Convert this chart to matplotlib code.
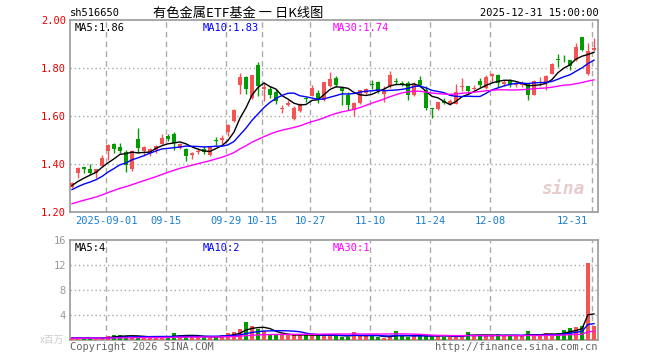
import numpy as np
import pandas as pd
import matplotlib
matplotlib.use("Agg")
import matplotlib.pyplot as plt

# daily candles, 2025-08-22 .. 2025-12-31 (88 trading days)
opens = [1.306, 1.364, 1.386, 1.379, 1.362, 1.393, 1.454, 1.485, 1.471, 1.449,
         1.381, 1.503, 1.456, 1.450, 1.460, 1.483, 1.518, 1.523, 1.468, 1.462,
         1.437, 1.449, 1.462, 1.438, 1.499, 1.502, 1.532, 1.580, 1.731, 1.762,
         1.675, 1.814, 1.714, 1.713, 1.700, 1.628, 1.647, 1.588, 1.620, 1.675,
         1.685, 1.696, 1.665, 1.726, 1.758, 1.717, 1.689, 1.626, 1.654, 1.696,
         1.735, 1.742, 1.693, 1.724, 1.746, 1.738, 1.738, 1.686, 1.751, 1.710,
         1.631, 1.629, 1.664, 1.650, 1.652, 1.722, 1.724, 1.713, 1.744, 1.717,
         1.765, 1.772, 1.735, 1.751, 1.728, 1.730, 1.733, 1.689, 1.736, 1.738,
         1.776, 1.836, 1.843, 1.832, 1.832, 1.928, 1.775, 1.876]
highs = [1.326, 1.387, 1.388, 1.399, 1.380, 1.438, 1.482, 1.487, 1.488, 1.460,
         1.460, 1.551, 1.474, 1.468, 1.478, 1.525, 1.526, 1.535, 1.486, 1.466,
         1.450, 1.467, 1.474, 1.476, 1.513, 1.520, 1.568, 1.630, 1.778, 1.765,
         1.772, 1.824, 1.740, 1.724, 1.712, 1.647, 1.668, 1.640, 1.655, 1.681,
         1.728, 1.710, 1.740, 1.782, 1.766, 1.722, 1.700, 1.660, 1.710, 1.716,
         1.752, 1.745, 1.725, 1.788, 1.760, 1.745, 1.747, 1.740, 1.765, 1.724,
         1.633, 1.660, 1.676, 1.670, 1.735, 1.757, 1.726, 1.730, 1.757, 1.771,
         1.778, 1.774, 1.750, 1.755, 1.745, 1.745, 1.737, 1.750, 1.763, 1.772,
         1.822, 1.858, 1.853, 1.833, 1.904, 1.930, 1.904, 1.925]
lows = [1.300, 1.340, 1.361, 1.358, 1.342, 1.390, 1.417, 1.444, 1.445, 1.368,
        1.370, 1.447, 1.433, 1.433, 1.446, 1.480, 1.495, 1.460, 1.462, 1.412,
        1.420, 1.442, 1.440, 1.434, 1.480, 1.483, 1.515, 1.576, 1.692, 1.690,
        1.672, 1.682, 1.664, 1.676, 1.652, 1.612, 1.640, 1.584, 1.616, 1.658,
        1.682, 1.654, 1.662, 1.722, 1.722, 1.647, 1.627, 1.598, 1.648, 1.690,
        1.711, 1.697, 1.660, 1.716, 1.735, 1.725, 1.668, 1.682, 1.722, 1.624,
        1.592, 1.626, 1.650, 1.645, 1.650, 1.705, 1.696, 1.702, 1.722, 1.712,
        1.740, 1.722, 1.725, 1.720, 1.720, 1.722, 1.668, 1.689, 1.725, 1.710,
        1.773, 1.803, 1.826, 1.793, 1.830, 1.870, 1.772, 1.869]
closes = [1.322, 1.385, 1.378, 1.362, 1.378, 1.426, 1.480, 1.461, 1.456, 1.394,
          1.456, 1.465, 1.470, 1.462, 1.474, 1.510, 1.505, 1.488, 1.483, 1.434,
          1.447, 1.456, 1.452, 1.472, 1.496, 1.507, 1.563, 1.627, 1.762, 1.712,
          1.770, 1.724, 1.720, 1.686, 1.661, 1.632, 1.654, 1.633, 1.650, 1.671,
          1.717, 1.668, 1.740, 1.756, 1.728, 1.706, 1.647, 1.654, 1.707, 1.713,
          1.731, 1.703, 1.707, 1.772, 1.742, 1.734, 1.689, 1.731, 1.728, 1.633,
          1.629, 1.657, 1.656, 1.662, 1.700, 1.726, 1.704, 1.718, 1.728, 1.762,
          1.776, 1.738, 1.740, 1.728, 1.738, 1.737, 1.689, 1.744, 1.742, 1.767,
          1.817, 1.833, 1.840, 1.810, 1.886, 1.876, 1.870, 1.885]
volumes = [0.25, 0.30, 0.25, 0.30, 0.28, 0.40, 0.64, 0.80, 0.80, 0.60,
           0.55, 0.50, 0.45, 0.40, 0.40, 0.50, 0.55, 1.07, 0.80, 0.70,
           0.55, 0.45, 0.45, 0.55, 0.45, 0.85, 1.07, 1.30, 1.76, 2.93,
           2.24, 1.70, 1.50, 0.75, 0.75, 0.90, 0.80, 0.80, 0.80, 0.75,
           0.80, 0.75, 0.80, 0.80, 0.70, 0.43, 0.53, 1.28, 0.64, 0.64,
           0.64, 0.53, 0.37, 0.53, 1.44, 0.64, 0.43, 0.64, 0.64, 0.96,
           0.53, 0.64, 0.53, 0.53, 0.64, 0.80, 1.28, 0.64, 0.64, 0.64,
           0.80, 0.96, 0.64, 0.64, 0.64, 0.64, 1.44, 0.80, 0.64, 1.17,
           0.80, 1.17, 1.60, 1.87, 2.13, 2.24, 12.37, 2.24]

# the month before the window (only feeds the moving averages)
prev_close = [1.160, 1.165, 1.170, 1.175, 1.170, 1.180, 1.190, 1.185, 1.200, 1.205,
              1.210, 1.215, 1.220, 1.225, 1.230, 1.235, 1.240, 1.235, 1.245, 1.250,
              1.260, 1.270, 1.280, 1.280, 1.290, 1.300, 1.310, 1.300, 1.320]
prev_vol = [0.20, 0.22, 0.25, 0.20, 0.22, 0.25, 0.28, 0.25, 0.22, 0.25,
            0.28, 0.30, 0.25, 0.28, 0.30, 0.32, 0.28, 0.30, 0.35, 0.30,
            0.32, 0.35, 0.30, 0.33, 0.35, 0.30, 0.32, 0.30, 0.35]

tick_idx = [6, 16, 26, 32, 40, 50, 60, 70, 87]
tick_labels = ['2025-09-01', '09-15', '09-29', '10-15', '10-27',
               '11-10', '11-24', '12-08', '12-31']
price_ticks = [1.20, 1.40, 1.60, 1.80, 2.00]
vol_ticks = [4, 8, 12, 16]

UP, DOWN = '#f65353', '#009c00'
GRID = '#aaaaaa'
MONO = 'DejaVu Sans Mono'
plt.rcParams['font.family'] = ['DejaVu Sans Mono', 'Noto Sans CJK SC']

n = len(closes)
x = np.arange(n)
o, h, l, c = map(np.array, (opens, highs, lows, closes))
v = np.array(volumes)
colors = np.where(c >= o, UP, DOWN)

def ma(prev, vals, k):
    s = pd.Series(list(prev) + list(vals)).rolling(k).mean().to_numpy()
    return s[len(prev):]

W, H = 660, 360
fig = plt.figure(figsize=(6.6, 3.6), dpi=100)
ax1 = fig.add_axes([70 / W, 1 - 212 / H, 528 / W, 192 / H])
ax2 = fig.add_axes([70 / W, 1 - 340 / H, 528 / W, 100 / H])

xlim = (-0.33, n - 0.33)
for ax in (ax1, ax2):
    ax.set_xlim(*xlim)
    for s in ax.spines.values():
        s.set_color('#999999')
        s.set_linewidth(1.2)
    ax.set_xticks([])
    ax.tick_params(axis='y', length=0, pad=3, labelsize=7.5)
    for t in tick_idx:
        ax.axvline(t - 0.3, color=GRID, lw=1, ls=(0, (4, 3)), zorder=0)

# price panel
ax1.set_ylim(1.20, 2.00)
ax1.set_yticks(price_ticks)
ax1.set_yticklabels([f'{p:.2f}' for p in price_ticks], color='#ee0000')
for p in price_ticks[1:-1]:
    ax1.axhline(p, color=GRID, lw=1, ls=(0, (1, 2)), zorder=0)

ax1.vlines(x, l, h, colors=colors, lw=1, zorder=2)
body = np.maximum(np.abs(c - o), 0.003)
ax1.bar(x, body, bottom=np.minimum(o, c), width=0.75, color=colors, zorder=3)

ax1.plot(x, ma(prev_close, closes, 5), color='black', lw=1, zorder=4)
ax1.plot(x, ma(prev_close, closes, 10), color='#0000ff', lw=1, zorder=4)
ax1.plot(x, ma(prev_close, closes, 30), color='#ff00ff', lw=1, zorder=4)

ax1.text(0.008, 0.985, 'MA5:1.86', transform=ax1.transAxes, va='top', fontsize=7.5, color='black')
ax1.text(0.252, 0.985, 'MA10:1.83', transform=ax1.transAxes, va='top', fontsize=7.5, color='#0000ff')
ax1.text(0.498, 0.985, 'MA30:1.74', transform=ax1.transAxes, va='top', fontsize=7.5, color='#ff00ff')
ax1.text(0.975, 0.12, 'sina', transform=ax1.transAxes, ha='right', va='center',
         fontsize=13, style='italic', fontweight='bold', color='#e0c0c0', alpha=0.8, zorder=1)

for t, lab in zip(tick_idx, tick_labels):
    last = t == tick_idx[-1]
    ax1.annotate(lab, (t - 0.3, 1.20), xytext=(-3 if last else 0, -3),
                 textcoords='offset points', ha='right' if last else 'center',
                 va='top', fontsize=7.5, color='#1a7fd0', annotation_clip=False)

# volume panel
ax2.set_ylim(0, 16)
ax2.set_yticks(vol_ticks)
ax2.set_yticklabels([str(t) for t in vol_ticks], color='#999999')
for t in vol_ticks[:-1]:
    ax2.axhline(t, color=GRID, lw=1, ls=(0, (1, 2)), zorder=0)
ax2.bar(x, v, width=0.75, color=colors, zorder=3)
ax2.plot(x, ma(prev_vol, volumes, 5), color='black', lw=1, zorder=4)
ax2.plot(x, ma(prev_vol, volumes, 10), color='#0000ff', lw=1, zorder=4)
ax2.plot(x, ma(prev_vol, volumes, 30), color='#ff00ff', lw=1, zorder=4)
ax2.text(0.008, 0.97, 'MA5:4', transform=ax2.transAxes, va='top', fontsize=7.5, color='black')
ax2.text(0.252, 0.97, 'MA10:2', transform=ax2.transAxes, va='top', fontsize=7.5, color='#0000ff')
ax2.text(0.498, 0.97, 'MA30:1', transform=ax2.transAxes, va='top', fontsize=7.5, color='#ff00ff')

# header and footer
fig.text(70 / W, 1 - 13 / H, 'sh516650', fontsize=7.5, va='center', color='black')
fig.text(238 / W, 1 - 13 / H, '有色金属ETF基金 一 日K线图', fontsize=9.5, ha='center',
         va='center', color='black', family=['Noto Sans CJK SC', 'DejaVu Sans'])
fig.text(599 / W, 1 - 13 / H, '2025-12-31 15:00:00', fontsize=7.5, ha='right', va='center')
fig.text(70 / W, 1 - 347 / H, 'Copyright 2026 SINA.COM', fontsize=7.5, va='center', color='#666666')
fig.text(597 / W, 1 - 347 / H, 'http://finance.sina.com.cn', fontsize=7.5, ha='right',
         va='center', color='#666666')
fig.text(64 / W, 1 - 340 / H, 'x百万', fontsize=7, ha='right', va='center', color='#cccccc',
         family=['Noto Sans CJK SC', 'DejaVu Sans'])

fig.savefig('out.png', dpi=100)
